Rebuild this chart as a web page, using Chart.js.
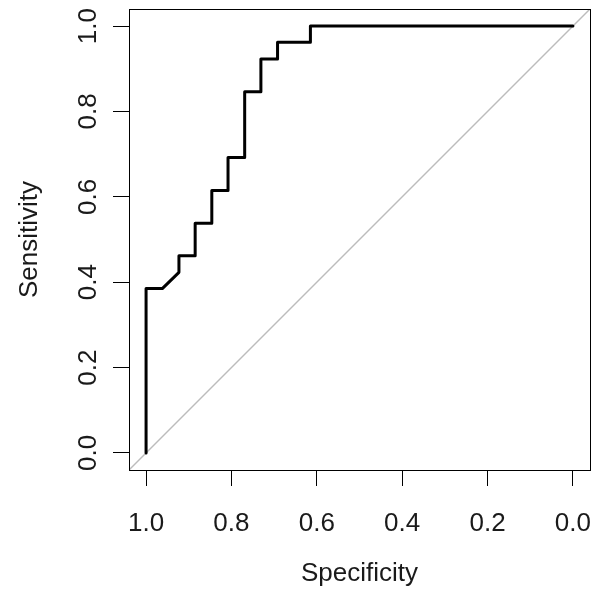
<!DOCTYPE html>
<html>
<head>
<meta charset="utf-8">
<script src="https://cdn.jsdelivr.net/npm/chart.js@4/dist/chart.umd.min.js"></script>
<style>
  html, body { margin: 0; padding: 0; background: #fff; }
  #wrap { width: 601px; height: 601px; }
</style>
</head>
<body>
<div id="wrap"><canvas id="roc" width="601" height="601"></canvas></div>
<script>
// ROC curve (specificity, sensitivity)
const specificity = [1, 1, 0.962, 0.923, 0.923, 0.885, 0.885, 0.846, 0.846, 0.808, 0.808,
  0.769, 0.769, 0.731, 0.731, 0.692, 0.692, 0.615, 0.615, 0];
const sensitivity = [0, 0.385, 0.385, 0.423, 0.462, 0.462, 0.538, 0.538, 0.615, 0.615, 0.692,
  0.692, 0.846, 0.846, 0.923, 0.923, 0.962, 0.962, 1, 1];

const tickValues = [0, 0.2, 0.4, 0.6, 0.8, 1.0];
const axisMin = -0.04;
const axisMax = 1.04;

const rocPoints = specificity.map((s, i) => ({ x: s, y: sensitivity[i] }));
// chance line y = 1 - x across the whole plot region
const diagonal = [axisMax, axisMin].map(s => ({ x: s, y: 1 - s }));

const font = { family: "'Liberation Sans', Arial, sans-serif", size: 26 };
const textColor = "#1a1a1a";

const boxPlugin = {
  id: "box",
  afterDraw(chart) {
    const { ctx, chartArea: a } = chart;
    ctx.save();
    ctx.strokeStyle = "#000";
    ctx.lineWidth = 1;
    ctx.strokeRect(Math.round(a.left) + 0.5, Math.round(a.top) + 0.5,
      Math.round(a.right - a.left), Math.round(a.bottom - a.top));
    ctx.restore();
  }
};

function axis(extra) {
  return Object.assign({
    type: "linear",
    min: axisMin,
    max: axisMax,
    afterBuildTicks: scale => { scale.ticks = tickValues.map(v => ({ value: v })); },
    grid: { drawOnChartArea: false, drawTicks: true, tickLength: 16, color: "#000", lineWidth: 1 },
    border: { display: false }
  }, extra);
}

new Chart(document.getElementById("roc"), {
  type: "scatter",
  data: {
    datasets: [
      {
        data: rocPoints,
        showLine: true,
        borderColor: "#000",
        borderWidth: 3,
        borderJoinStyle: "round",
        borderCapStyle: "round",
        pointRadius: 0,
        tension: 0
      },
      {
        data: diagonal,
        showLine: true,
        borderColor: "#bcbcbc",
        borderWidth: 1.4,
        pointRadius: 0
      }
    ]
  },
  options: {
    responsive: false,
    animation: false,
    devicePixelRatio: 1,
    layout: { padding: { left: 0, top: 9, right: 11, bottom: 0 } },
    plugins: { legend: { display: false }, tooltip: { enabled: false } },
    scales: {
      x: axis({
        reverse: true,
        afterFit: scale => { scale.height = 131; scale.paddingLeft = 0; scale.paddingRight = 0; },
        ticks: { color: textColor, font, padding: 22, maxRotation: 0, callback: v => v.toFixed(1) },
        title: { display: true, text: "Specificity", color: textColor, font, padding: { bottom: 12 } }
      }),
      y: axis({
        afterFit: scale => { scale.width = 129; scale.paddingTop = 0; scale.paddingBottom = 0; },
        ticks: { color: textColor, font, padding: 6, minRotation: 90, maxRotation: 90,
          crossAlign: "center", callback: v => v.toFixed(1) },
        title: { display: true, text: "Sensitivity", color: textColor, font, padding: { top: 14 } }
      })
    }
  },
  plugins: [boxPlugin]
});
</script>
</body>
</html>
